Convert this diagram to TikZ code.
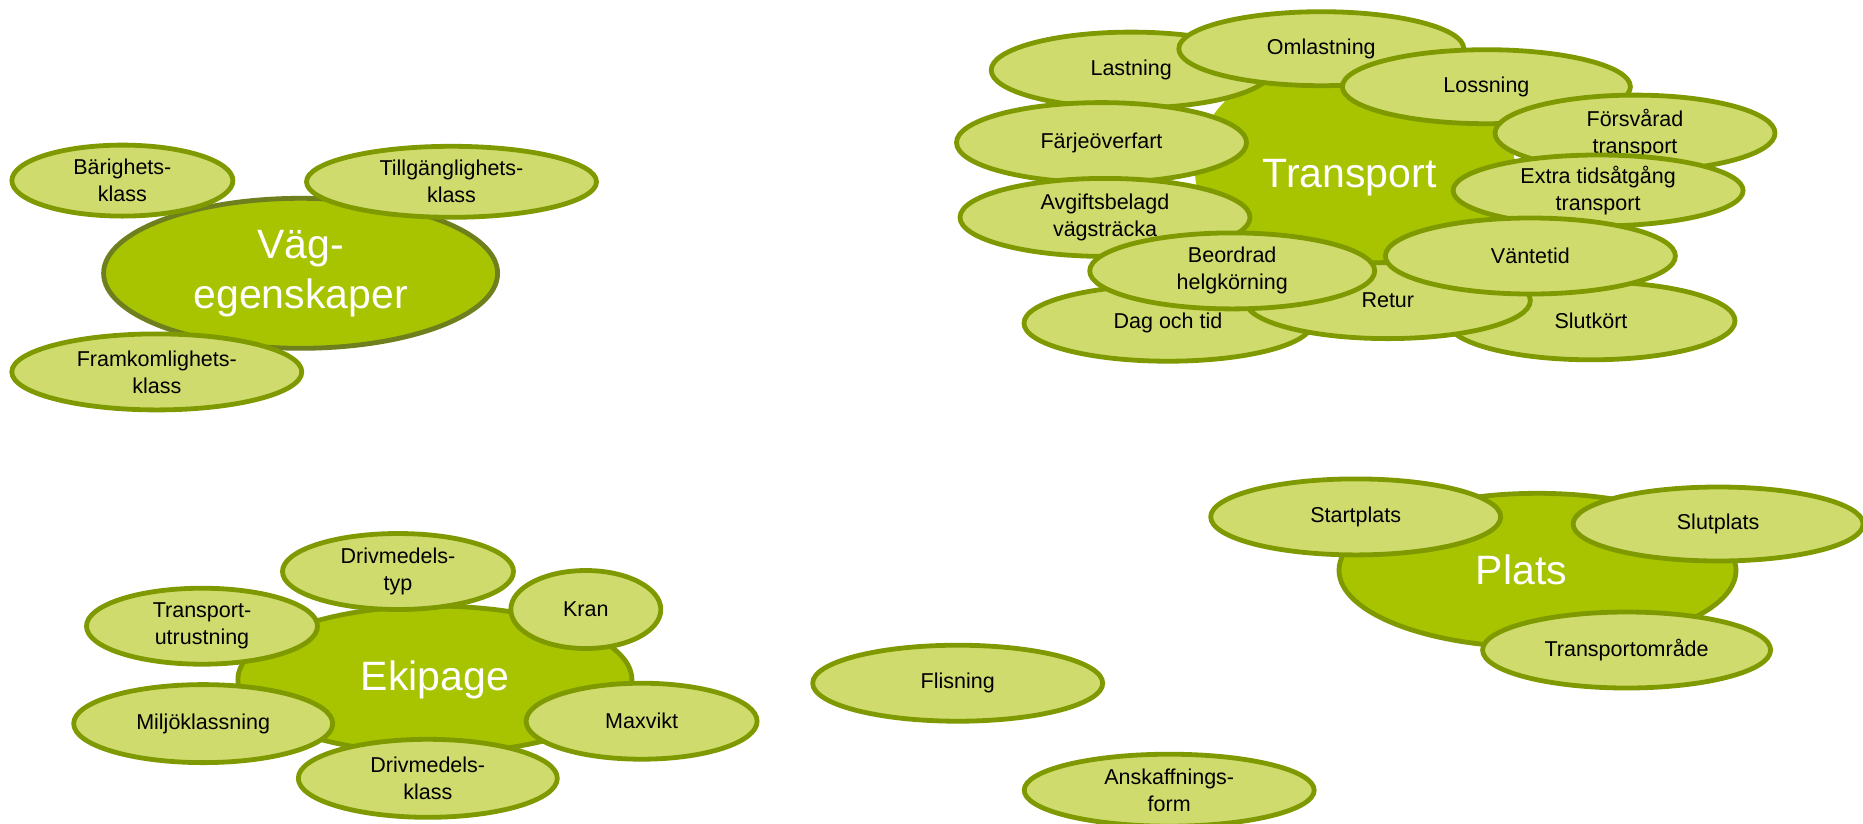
\documentclass[tikz,border=0pt]{standalone}
\usepackage{fontspec}
\setmainfont{Liberation Sans}
\usetikzlibrary{shapes.geometric}
\definecolor{bigfill}{HTML}{A8C400}
\definecolor{smallfill}{HTML}{D0DB6E}
\definecolor{rim}{HTML}{7E9A00}
\definecolor{darkrim}{HTML}{6E7F1E}
\tikzset{
  sz/.style 2 args={minimum width=#1pt, minimum height=#2pt},
  bubble/.style={ellipse, draw=rim, line width=4.8pt, fill=smallfill, inner sep=0pt,
    align=center, font=\fontsize{21.5}{27}\selectfont, text=black},
  hub/.style={ellipse, draw=rim, line width=4.8pt, fill=bigfill, inner sep=0pt,
    align=center, font=\fontsize{41}{50}\selectfont, text=white},
}
\begin{document}
\begin{tikzpicture}[x=1pt,y=1pt]
\useasboundingbox (0,0) rectangle (1863,-823);
\fill[white] (0,0) rectangle (1863,-823);

% ---- Väg-egenskaper ----
\node[hub, draw=darkrim, sz={394}{150}] (vag) at (300.6,-273.3) {Väg-\\egenskaper};
\node[bubble, sz={221}{71}] (barig) at (122.4,-180.6) {Bärighets-\\klass};
\node[bubble, sz={290}{71}] (tillg) at (451.5,-181.8) {Tillgänglighets-\\klass};
\node[bubble, sz={290}{76}] (framk) at (156.8,-371.9) {Framkomlighets-\\klass};

% ---- Transport ----
\node[hub, draw=none, sz={320}{236}] (transport) at (1355,-170) {};
\node[bubble, sz={280}{76}] (lastning) at (1131.2,-70.1) {Lastning};
\node[bubble, sz={290}{80}] (farje) at (1101.5,-142.6) {Färjeöverfart};
\node[bubble, sz={290}{78}] (avgift) at (1105,-217.4) {Avgiftsbelagd\\vägsträcka};
\node[bubble, sz={288}{76}] (dag) at (1168,-323.2) {Dag och tid};
\node[bubble, sz={288}{78}] (slutkort) at (1591,-320.8) {Slutkört};
\node[bubble, sz={285}{76}] (retur) at (1387.8,-300.6) {Retur};
\node[bubble, sz={285}{76}] (beordrad) at (1232.2,-270.9) {Beordrad\\helgkörning};
\node[bubble, sz={285}{74}] (omlast) at (1321.3,-48.7) {Omlastning};
\node[bubble, sz={288}{74}] (lossning) at (1486.4,-86.7) {Lossning};
\node[bubble, sz={280}{76}] (forsv) at (1635,-133.1) {Försvårad\\transport};
\node[bubble, sz={290}{71}] (extra) at (1598.1,-190.5) {Extra tidsåtgång\\transport};
\node[bubble, sz={290}{76}] (vante) at (1530.4,-256) {Väntetid};
\node[text=white, font=\fontsize{41}{50}\selectfont, anchor=base, inner sep=0pt] (transporttext) at (1349.5,-187) {Transport};

% ---- Ekipage ----
\node[hub, sz={394}{147}] (ekipage) at (434.9,-679.6) {Ekipage};
\node[bubble, sz={231}{76}] (drivtyp) at (398,-571.5) {Drivmedels-\\typ};
\node[bubble, sz={150}{78}] (kran) at (585.8,-609.5) {Kran};
\node[bubble, sz={231}{76}] (transutr) at (202,-626.2) {Transport-\\utrustning};
\node[bubble, sz={259}{78}] (miljo) at (203.2,-723.6) {Miljöklassning};
\node[bubble, sz={231}{76}] (maxvikt) at (641.6,-721.2) {Maxvikt};
\node[bubble, sz={259}{78}] (drivklass) at (427.8,-778.3) {Drivmedels-\\klass};

% ---- Plats ----
\node[hub, sz={397}{154}] (plats) at (1537.5,-570.3) {Plats\hspace*{32pt}};
\node[bubble, sz={290}{76}] (startplats) at (1355.7,-516.9) {Startplats};
\node[bubble, sz={290}{74}] (slutplats) at (1718.1,-524) {Slutplats};
\node[bubble, sz={288}{76}] (transomr) at (1626.6,-650) {Transportområde};

% ---- Fristående ----
\node[bubble, sz={290}{76}] (flisning) at (957.7,-683.2) {Flisning};
\node[bubble, sz={290}{72}] (anskaff) at (1169.2,-790.2) {Anskaffnings-\\form};
\end{tikzpicture}
\end{document}
